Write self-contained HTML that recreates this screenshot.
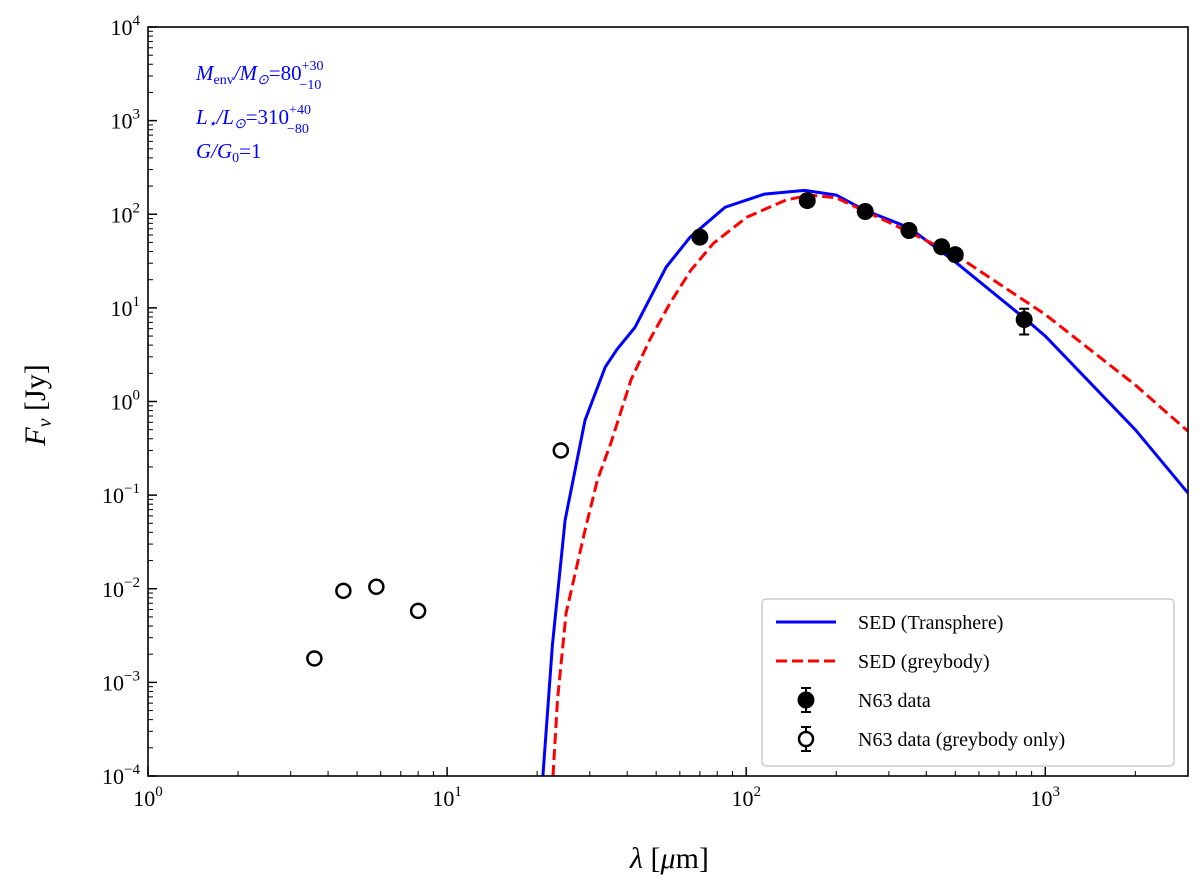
<!DOCTYPE html>
<html><head><meta charset="utf-8"><style>
body{margin:0;background:#fff}
svg{font-family:"Liberation Serif",serif}
</style></head><body>
<svg id="c" width="1200" height="891" viewBox="0 0 1200 891" xmlns="http://www.w3.org/2000/svg">
<g id="g"></g>
</svg>
<script>
const X0=148,X1=1188,Y0=27,Y1=776,XMIN=0,XMAX=Math.log10(3000),YMIN=-4,YMAX=4;
const xTicks=[1,10,100,1000];
const yTicks=[-4,-3,-2,-1,0,1,2,3,4];
const blueLam=[20.9,22.5,24.8,28.9,33.8,37,42.5,54,65,85,115,157,200,250,350,500,850,1000,2000,3000];
const blueFlux=[1e-4,2.5e-3,0.054,0.63,2.34,3.6,6.2,27.3,57,119,164,180,160,110,72,31,7.8,5,0.5,0.105];
const redLam=[22.6,23.4,25,28.9,31.8,35.3,41.2,47.5,55.7,65.2,77.7,100.5,136,163,200,300,500,1000,2000,3000];
const redFlux=[1e-4,6.5e-4,0.0055,0.042,0.145,0.36,1.7,4.5,11.3,25,49,93,142,160,150,82,37,8.5,1.5,0.48];
const fullLam=[70,160,250,350,450,500,850];
const fullFlux=[57,140,107,67,45,37,7.5];
const fullLo=[0,0,0,0,0,0,5.2];
const fullHi=[0,0,0,0,0,0,9.8];
const openLam=[3.6,4.5,5.8,8.0,24];
const openFlux=[0.0018,0.0095,0.0105,0.0058,0.3];
const NS="http://www.w3.org/2000/svg";
const sx=v=>X0+(Math.log10(v)-XMIN)/(XMAX-XMIN)*(X1-X0);
const sy=v=>Y1-(Math.log10(v)-YMIN)/(YMAX-YMIN)*(Y1-Y0);
const g=document.getElementById('g');
function mk(t,a,p){const e=document.createElementNS(NS,t);for(const k in a)e.setAttribute(k,a[k]);(p||g).appendChild(e);return e;}
const defs=mk('defs',{});const cp=mk('clipPath',{id:'cl'},defs);mk('rect',{x:X0,y:Y0,width:X1-X0,height:Y1-Y0},cp);
xTicks.forEach((v,i)=>{const x=sx(v);
 const t=mk('line',{x1:x,x2:x,y1:Y1,y2:Y1-9,stroke:'#000','stroke-width':1.5});
 
 const tx=mk('text',{x:x,y:Y1+30,'font-size':22,'text-anchor':'middle'});
 
 tx.innerHTML='10<tspan dy="-10" font-size="15">'+i+'</tspan>';
 for(let m=2;m<=9;m++){const xv=v*m;if(xv>3000)break;const xm=sx(xv);
  const mt=mk('line',{x1:xm,x2:xm,y1:Y1,y2:Y1-5,stroke:'#000','stroke-width':1});
  }
});
yTicks.forEach(p=>{const y=sy(Math.pow(10,p));
 const t=mk('line',{x1:X0,x2:X0+9,y1:y,y2:y,stroke:'#000','stroke-width':1.5});
 
 const tx=mk('text',{x:X0-8,y:y+8,'font-size':22,'text-anchor':'end'});
 
 tx.innerHTML='10<tspan dy="-10" font-size="15">'+(p<0?'−'+(-p):p)+'</tspan>';
 if(p<4)for(let m=2;m<=9;m++){const ym=sy(m*Math.pow(10,p));
  const mt=mk('line',{x1:X0,x2:X0+5,y1:ym,y2:ym,stroke:'#000','stroke-width':1});
  }
});
function curve(L,F,col,dash,name){const d=L.map((l,i)=>(i?'L':'M')+sx(l).toFixed(1)+','+sy(F[i]).toFixed(1)).join('');
 const p=mk('path',{d:d,fill:'none',stroke:col,'stroke-width':3,'clip-path':'url(#cl)'});
 if(dash)p.setAttribute('stroke-dasharray',dash);
 }
curve(blueLam,blueFlux,'#0000ff',null,'sed-transphere-line');
curve(redLam,redFlux,'#ff0000','11,5','sed-greybody-line');
fullLam.forEach((l,i)=>{const x=sx(l),y=sy(fullFlux[i]);
 if(fullLo[i]>0){const e=mk('path',{d:`M${x},${sy(fullLo[i])}V${sy(fullHi[i])}M${x-5},${sy(fullLo[i])}h10M${x-5},${sy(fullHi[i])}h10`,stroke:'#000','stroke-width':2,fill:'none'});
  }
 const c=mk('circle',{cx:x,cy:y,r:8.5,fill:'#000'});
 });
openLam.forEach((l,i)=>{const c=mk('circle',{cx:sx(l),cy:sy(openFlux[i]),r:7,fill:'#fff',stroke:'#000','stroke-width':2.5});
 });
</script>
<svg width="1200" height="891" style="position:absolute;left:0;top:0" xmlns="http://www.w3.org/2000/svg">
<rect x="148" y="27" width="1040" height="749" fill="none" stroke="#000" stroke-width="1.6"/>
<g fill="#0000ff" font-size="21" font-style="italic">
<text x="196" y="80">M<tspan font-size="14" font-style="normal" dy="4">env</tspan><tspan dy="-4">/M</tspan><tspan font-size="14" dy="4">⊙</tspan><tspan font-style="normal" dy="-4">=80</tspan><tspan font-style="normal" font-size="14" dy="-10">+30</tspan><tspan font-style="normal" font-size="14" dx="-24" dy="19">−10</tspan></text>
<text x="196" y="124">L<tspan font-size="14" dy="4">⋆</tspan><tspan dy="-4">/L</tspan><tspan font-size="14" dy="4">⊙</tspan><tspan font-style="normal" dy="-4">=310</tspan><tspan font-style="normal" font-size="14" dy="-10">+40</tspan><tspan font-style="normal" font-size="14" dx="-24" dy="19">−80</tspan></text>
<text x="196" y="158">G/G<tspan font-size="14" font-style="normal" dy="4">0</tspan><tspan font-style="normal" dy="-4">=1</tspan></text>
</g>
<g>
<rect x="762" y="599" width="412" height="167" rx="4" fill="#fff" stroke="#ccc" stroke-width="1.5"/>
<line x1="776" y1="622" x2="836" y2="622" stroke="#0000ff" stroke-width="3"/>
<line x1="776" y1="661" x2="836" y2="661" stroke="#ff0000" stroke-width="3" stroke-dasharray="11,5"/>
<path d="M806,688V712M801,688h10M801,712h10" stroke="#000" stroke-width="2"/><circle cx="806" cy="700" r="8.5"/>
<path d="M806,727V751M801,727h10M801,751h10" stroke="#000" stroke-width="2"/><circle cx="806" cy="739" r="7" fill="#fff" stroke="#000" stroke-width="2.5"/>
<g font-size="20"><text x="858" y="629">SED (Transphere)</text><text x="858" y="668">SED (greybody)</text><text x="858" y="707">N63 data</text><text x="858" y="746">N63 data (greybody only)</text></g>
</g>
<text x="630" y="868" font-size="30"><tspan font-style="italic">λ</tspan> [<tspan font-style="italic">μ</tspan>m]</text>
<text transform="translate(45,405) rotate(-90)" font-size="30" text-anchor="middle"><tspan font-style="italic">F</tspan><tspan font-style="italic" font-size="20" dy="6">ν</tspan><tspan dy="-6">  [Jy]</tspan></text>
</svg>
</body></html>
